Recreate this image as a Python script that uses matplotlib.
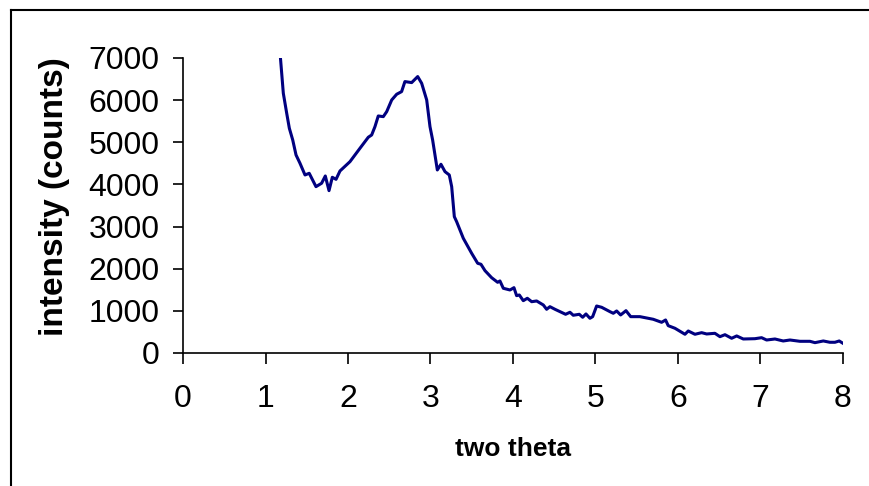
import matplotlib.pyplot as plt
from matplotlib.lines import Line2D

# -------------------------
# Data
# -------------------------
two_theta = [
    1.16, 1.18, 1.216, 1.257, 1.289, 1.33, 1.37, 1.418, 1.479, 1.53,
    1.612, 1.68, 1.725, 1.77, 1.81, 1.855, 1.903, 2.024, 2.145, 2.246,
    2.287, 2.327, 2.367, 2.428, 2.469, 2.53, 2.59, 2.65, 2.69, 2.772,
    2.845, 2.893, 2.954, 2.994, 3.026, 3.083, 3.127, 3.176, 3.228, 3.257,
    3.289, 3.317, 3.398, 3.499, 3.572, 3.612, 3.661, 3.741, 3.814, 3.842,
    3.883, 3.964, 4.012, 4.044, 4.077, 4.125, 4.174, 4.227, 4.287, 4.368,
    4.408, 4.448, 4.509, 4.638, 4.691, 4.731, 4.804, 4.845, 4.885, 4.933,
    4.966, 5.014, 5.075, 5.176, 5.216, 5.257, 5.305, 5.37, 5.427, 5.539,
    5.64, 5.70, 5.802, 5.85, 5.882, 5.964, 6.085, 6.125, 6.206, 6.287,
    6.348, 6.448, 6.509, 6.57, 6.651, 6.712, 6.792, 6.933, 7.014, 7.075,
    7.176, 7.276, 7.358, 7.479, 7.6, 7.661, 7.762, 7.842, 7.903, 7.955,
    8.0,
]
counts = [
    7400, 7030, 6163, 5688, 5332, 5055, 4699, 4502, 4224, 4264,
    3947, 4027, 4200, 3852, 4169, 4121, 4319, 4540, 4857, 5119,
    5173, 5371, 5624, 5608, 5726, 6004, 6139, 6202, 6440, 6416,
    6559, 6400, 6004, 5371, 5055, 4343, 4478, 4303, 4224, 3947,
    3235, 3116, 2721, 2366, 2128, 2105, 1953, 1787, 1677, 1709,
    1535, 1495, 1550, 1360, 1376, 1241, 1298, 1217, 1234, 1139,
    1037, 1099, 1037, 918, 966, 895, 918, 847, 926, 823,
    862, 1115, 1084, 980, 942, 997, 902, 1004, 862, 862,
    823, 800, 728, 783, 648, 586, 444, 522, 444, 482,
    451, 467, 387, 434, 349, 404, 332, 339, 363, 308,
    332, 285, 308, 277, 277, 245, 285, 254, 254, 285,
    230,
]

plt.rcParams["font.family"] = ["Liberation Sans", "DejaVu Sans"]

fig = plt.figure(figsize=(8.69, 4.86), dpi=100)
ax = fig.add_axes([0.2106, 0.2737, 0.7594, 0.607])

ax.plot(two_theta, counts, color="#000080", lw=2.2, solid_joinstyle="round")

ax.set_xlim(0, 8)
ax.set_ylim(0, 7000)
ax.set_xticks(range(0, 9))
ax.set_yticks(range(0, 7001, 1000))

for side in ("top", "right"):
    ax.spines[side].set_visible(False)
for side in ("left", "bottom"):
    ax.spines[side].set_linewidth(1.2)

ax.tick_params(axis="y", direction="out", length=7, width=1.2, labelsize=23, pad=10)
ax.tick_params(axis="x", direction="out", length=8, width=1.2, labelsize=23, pad=14)

ax.set_xlabel("two theta", fontsize=19, fontweight="bold", labelpad=17)
ax.set_ylabel("intensity (counts)", fontsize=24, fontweight="bold")
ax.yaxis.set_label_coords(-0.172, 0.53)

# outer chart frame (only top and left edges visible)
fig.add_artist(Line2D([11 / 869, 1.0], [1 - 10 / 486, 1 - 10 / 486],
                      color="black", lw=1.5, transform=fig.transFigure))
fig.add_artist(Line2D([11 / 869, 11 / 869], [0.0, 1 - 10 / 486],
                      color="black", lw=1.5, transform=fig.transFigure))

fig.savefig("out.png", dpi=100)
